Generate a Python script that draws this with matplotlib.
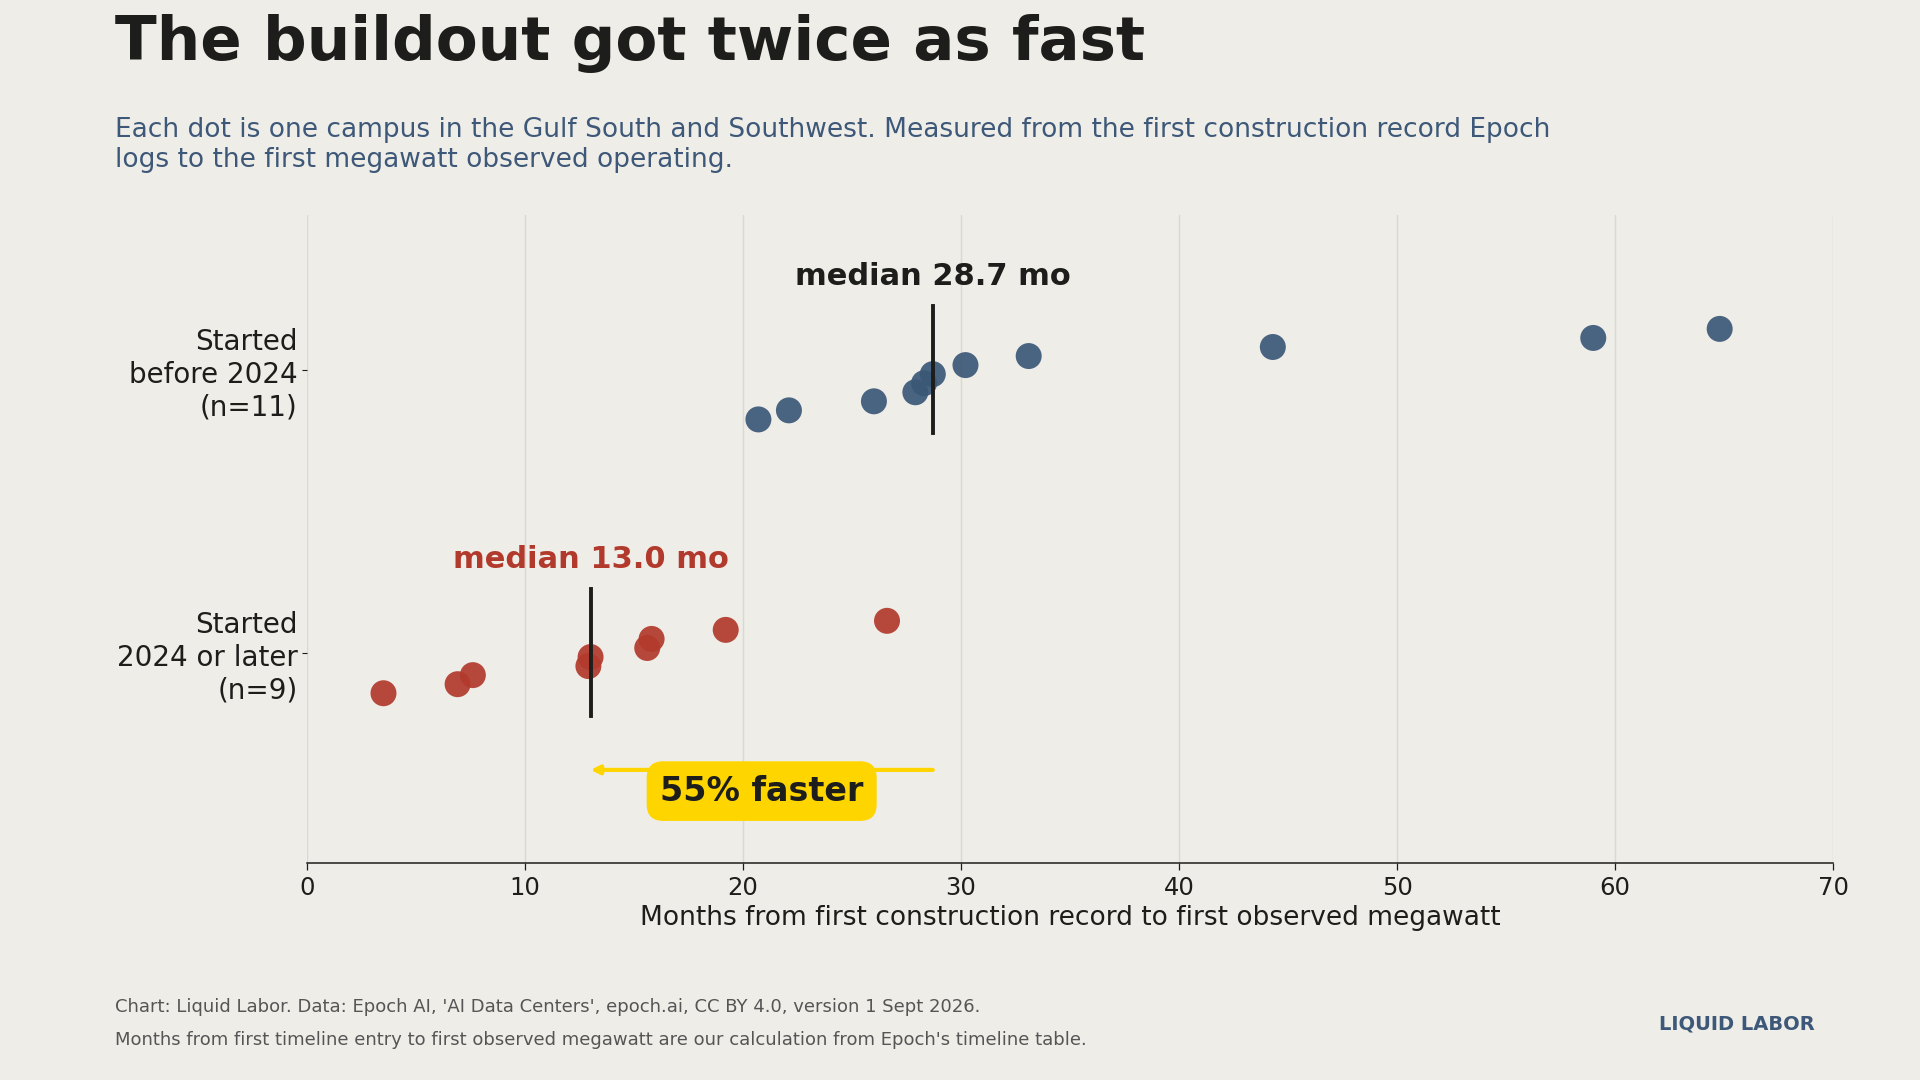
import numpy as np
import matplotlib.pyplot as plt

# months from first construction record to first observed MW
before_2024 = [20.7, 22.1, 26.0, 27.9, 28.3, 28.7, 30.2, 33.1, 44.3, 59.0, 64.8]
after_2024 = [3.5, 6.9, 7.6, 12.9, 13.0, 15.6, 15.8, 19.2, 26.6]

group_labels = ["Started\n2024 or later\n(n=9)", "Started\nbefore 2024\n(n=11)"]
x_ticks = [0, 10, 20, 30, 40, 50, 60, 70]

BG = "#EFEDE8"
BLUE = "#3B5877"
RED = "#B23A2C"
YELLOW = "#FFD500"
INK = "#1D1D1B"

plt.rcParams["font.family"] = ["DejaVu Sans"]

fig = plt.figure(figsize=(19.2, 10.8), dpi=100, facecolor=BG)
ax = fig.add_axes([0.160, 0.2007, 0.7947, 0.5998])
ax.set_facecolor(BG)

step = 0.032
for cat, vals, col in [(1, before_2024, BLUE), (0, after_2024, RED)]:
    vals = np.sort(np.array(vals))
    n = len(vals)
    ys = cat + (np.arange(n) - n / 2) * step
    ax.scatter(vals, ys, s=350, color=col, alpha=0.92, edgecolors="none", zorder=3)

    med = float(np.median(vals))
    ax.plot([med, med], [cat - 0.225, cat + 0.225], color=INK, lw=2.8, zorder=4)
    lab_col = INK if cat == 1 else RED
    ax.text(med, cat + 0.33, f"median {med:.1f} mo", ha="center", va="center",
            fontsize=22, fontweight="bold", color=lab_col, zorder=5)

med_old = float(np.median(before_2024))
med_new = float(np.median(after_2024))
ax.annotate("", xy=(med_new, -0.415), xytext=(med_old, -0.415),
            arrowprops=dict(arrowstyle="-|>,head_length=0.5,head_width=0.25",
                            color=YELLOW, lw=3, shrinkA=0, shrinkB=0), zorder=2)
pct = round((1 - med_new / med_old) * 100)
ax.text((med_old + med_new) / 2, -0.49, f"{pct}% faster", ha="center", va="center",
        fontsize=24, fontweight="bold", color=INK, zorder=6,
        bbox=dict(boxstyle="round,pad=0.4,rounding_size=0.5", fc=YELLOW, ec="none"))

ax.set_xlim(0, 70)
ax.set_ylim(-0.745, 1.545)
ax.set_xticks(x_ticks)
ax.set_yticks([0, 1])
ax.set_yticklabels(group_labels, fontsize=20, color=INK, ha="right")
ax.tick_params(axis="x", labelsize=17.5, colors=INK, length=5, width=0.9, pad=4)
ax.tick_params(axis="y", length=3.5, width=0.8, colors=INK, labelcolor=INK)
ax.grid(axis="x", color="#D9D8D3", lw=1, zorder=0)
ax.set_axisbelow(True)
for s in ["top", "right", "left"]:
    ax.spines[s].set_visible(False)
ax.spines["bottom"].set_color(INK)
ax.spines["bottom"].set_linewidth(1.1)
ax.set_xlabel("Months from first construction record to first observed megawatt",
              fontsize=19, color=INK, labelpad=4)

fig.text(0.06, 0.9444, "The buildout got twice as fast", fontsize=44,
         fontweight="bold", color=INK, ha="left", va="baseline")
fig.text(0.06, 0.892,
         "Each dot is one campus in the Gulf South and Southwest. Measured from the first construction record Epoch\n"
         "logs to the first megawatt observed operating.",
         fontsize=19, color="#3D5878", ha="left", va="top", linespacing=1.2)

fig.text(0.06, 0.068, "Chart: Liquid Labor. Data: Epoch AI, 'AI Data Centers', epoch.ai, CC BY 4.0, version 1 Sept 2026.",
         fontsize=13, color="#555555", ha="left", va="center")
fig.text(0.06, 0.037, "Months from first timeline entry to first observed megawatt are our calculation from Epoch's timeline table.",
         fontsize=13, color="#555555", ha="left", va="center")
fig.text(0.945, 0.052, "LIQUID LABOR", fontsize=14, fontweight="bold",
         color="#3D5878", ha="right", va="center")

fig.savefig("out.png", dpi=100, facecolor=BG)
